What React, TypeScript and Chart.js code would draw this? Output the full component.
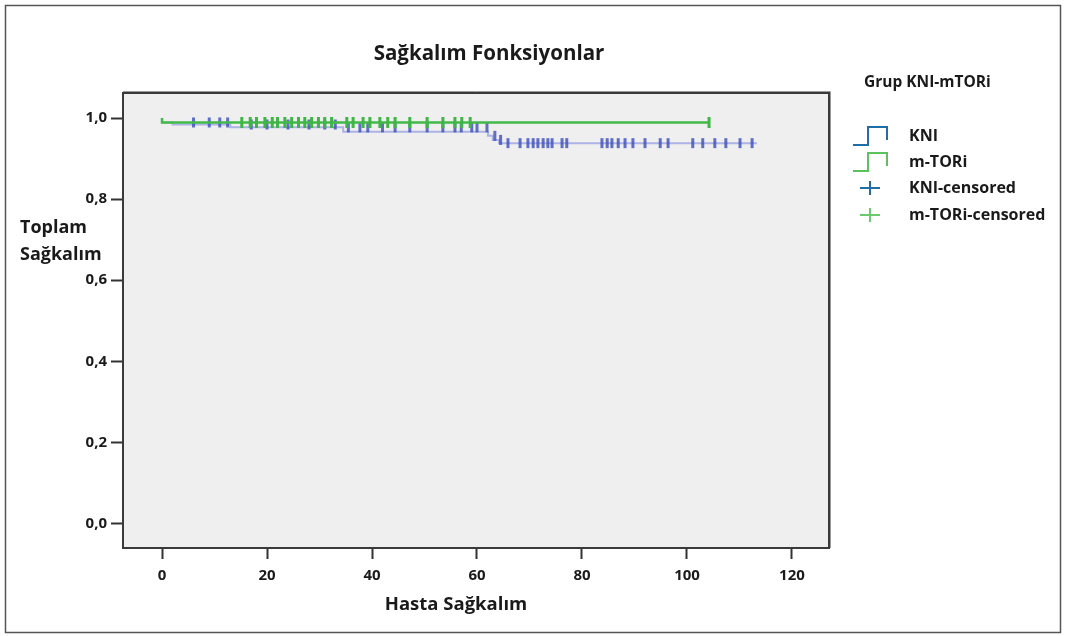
import React, { useEffect, useRef } from "react";
import { Chart, registerables } from "chart.js";

Chart.register(...registerables);

// Kaplan-Meier step curves (time, survival after that time)
const kniTimes = [0, 2, 13, 34.5, 62.1, 63, 64.2, 65, 113.3];
const kniSurv = [1, 0.989, 0.984, 0.977, 0.966, 0.956, 0.946, 0.938, 0.938];
const mtoriTimes = [0, 1.5, 104.2];
const mtoriSurv = [1, 0.989, 0.989];

// Censored observation times
const kniCensored = [
  6, 9, 11, 12.5, 17, 20, 24, 28, 31, 33, 35.5, 37.7, 39.2, 42, 44.4, 47.2, 50.5,
  53.5, 55.8, 57, 59, 60, 61.9, 63.4, 64.5, 65.9, 68.2, 69.7, 70.7, 71.6, 72.6,
  73.5, 74.3, 76.2, 77.1, 83.8, 84.8, 85.7, 86.9, 88.2, 89.7, 92, 94.9, 96.4,
  101.1, 103, 105.3, 107.4, 110.1, 112.4,
];
const mtoriCensored = [
  15.2, 16.8, 18, 19.6, 21, 22, 23.4, 24.7, 26, 27.2, 28.5, 29.8, 31, 32.3, 35.2,
  36.4, 38.3, 39.6, 41.5, 43, 44.4, 47.2, 50.5, 53.5, 55.8, 57.1, 58.7, 104.2,
];

const xTicks = [0, 20, 40, 60, 80, 100, 120];
const yTicks = [0, 0.2, 0.4, 0.6, 0.8, 1.0];

const FONT = "'Open Sans', 'DejaVu Sans', sans-serif";

function survAt(times: number[], surv: number[], t: number) {
  let s = surv[0];
  for (let i = 0; i < times.length; i++) if (times[i] <= t) s = surv[i];
  return s;
}

const KNI_LINE = "rgba(120,130,220,0.55)";
const KNI_MARK = "rgba(60,78,185,0.8)";
const MT_LINE = "#43b94a";
const MT_MARK = "#3fb546";

export default function App() {
  const ref = useRef<HTMLCanvasElement | null>(null);
  useEffect(() => {
    document.body.style.margin = "0";
    const canvas = ref.current!;
    const decor = {
      id: "decor",
      beforeDraw(chart: any) {
        const { ctx, chartArea: a } = chart;
        ctx.save();
        ctx.fillStyle = "#ffffff";
        ctx.fillRect(0, 0, chart.width, chart.height);
        ctx.fillStyle = "#efefef";
        ctx.fillRect(a.left, a.top, a.right - a.left, a.bottom - a.top);
        ctx.restore();
      },
      afterDraw(chart: any) {
        const { ctx, chartArea: a } = chart;
        ctx.save();
        // outer frame
        ctx.strokeStyle = "#555";
        ctx.lineWidth = 1.5;
        ctx.strokeRect(5.5, 5.5, 1055, 627);
        // plot frame
        ctx.strokeStyle = "#9a9a9a";
        ctx.lineWidth = 1;
        ctx.beginPath();
        ctx.moveTo(a.left, a.top - 1.5);
        ctx.lineTo(a.right + 1.5, a.top - 1.5);
        ctx.lineTo(a.right + 1.5, a.bottom);
        ctx.stroke();
        ctx.strokeStyle = "#3a3a3a";
        ctx.lineWidth = 2;
        ctx.strokeRect(a.left, a.top, a.right - a.left, a.bottom - a.top);

        ctx.fillStyle = "#1a1a1a";
        // title
        ctx.font = `bold 20.5px ${FONT}`;
        ctx.textAlign = "center";
        ctx.textBaseline = "middle";
        ctx.fillText("Sağkalım Fonksiyonlar", 489, 54);
        // x title
        ctx.font = `bold 18.5px ${FONT}`;
        ctx.fillText("Hasta Sağkalım", 456, 605);
        // y title
        ctx.textAlign = "left";
        ctx.font = `bold 18px ${FONT}`;
        ctx.fillText("Toplam", 20, 228);
        ctx.fillText("Sağkalım", 20, 255);

        // legend
        ctx.font = `bold 15.5px ${FONT}`;
        ctx.fillText("Grup KNI-mTORi", 864, 83);
        ctx.font = `bold 16px ${FONT}`;
        const rows = [
          { y: 136, label: "KNI", kind: "step", color: "#1f6fa6" },
          { y: 162, label: "m-TORi", kind: "step", color: "#5cc25e" },
          { y: 188, label: "KNI-censored", kind: "cross", color: "#1f6fa6" },
          { y: 215, label: "m-TORi-censored", kind: "cross", color: "#6cc96e" },
        ];
        rows.forEach((r) => {
          ctx.strokeStyle = r.color;
          ctx.lineWidth = 2;
          ctx.beginPath();
          if (r.kind === "step") {
            ctx.moveTo(853, r.y + 9);
            ctx.lineTo(868, r.y + 9);
            ctx.lineTo(868, r.y - 9);
            ctx.lineTo(887, r.y - 9);
            ctx.lineTo(887, r.y + 4);
          } else {
            ctx.moveTo(860, r.y);
            ctx.lineTo(880, r.y);
            ctx.moveTo(870, r.y - 7);
            ctx.lineTo(870, r.y + 7);
          }
          ctx.stroke();
          ctx.fillStyle = "#1a1a1a";
          ctx.fillText(r.label, 909, r.y);
        });
        ctx.restore();
      },
    };

    const chart = new Chart(canvas, {
      type: "scatter",
      data: {
        datasets: [
          {
            label: "m-TORi-censored",
            data: mtoriCensored.map((t) => ({ x: t, y: survAt(mtoriTimes, mtoriSurv, t) })),
            showLine: false,
            pointStyle: "line",
            rotation: 90,
            pointRadius: 5.5,
            borderColor: MT_MARK,
            backgroundColor: MT_MARK,
            pointBorderWidth: 3,
          },
          {
            label: "m-TORi",
            data: mtoriTimes.map((t, i) => ({ x: t, y: mtoriSurv[i] })),
            showLine: true,
            stepped: "after",
            pointRadius: 0,
            borderColor: MT_LINE,
            borderWidth: 2.5,
          },
          {
            label: "KNI-censored",
            data: kniCensored.map((t) => ({ x: t, y: survAt(kniTimes, kniSurv, t) })),
            showLine: false,
            pointStyle: "line",
            rotation: 90,
            pointRadius: 5,
            borderColor: KNI_MARK,
            backgroundColor: KNI_MARK,
            pointBorderWidth: 3,
          },
          {
            label: "KNI",
            data: kniTimes.map((t, i) => ({ x: t, y: kniSurv[i] })),
            showLine: true,
            stepped: "after",
            pointRadius: 0,
            borderColor: KNI_LINE,
            borderWidth: 2,
          },
        ],
      },
      options: {
        animation: false,
        responsive: false,
        layout: { padding: { left: 0, top: 93, right: 237, bottom: 0 } },
        plugins: { legend: { display: false }, tooltip: { enabled: false }, title: { display: false } },
        scales: {
          x: {
            type: "linear",
            min: -7.43,
            max: 127.05,
            afterBuildTicks: (s: any) => {
              s.ticks = xTicks.map((v) => ({ value: v }));
            },
            afterFit: (s: any) => {
              s.height = 88;
            },
            border: { display: false },
            grid: {
              drawOnChartArea: false,
              drawTicks: true,
              tickLength: 11,
              tickColor: "#333",
              tickWidth: 2,
            },
            ticks: {
              padding: 8,
              color: "#1a1a1a",
              font: { family: FONT, size: 15, weight: "bold" },
              callback: (v: any) => String(v),
            },
          },
          y: {
            type: "linear",
            min: -0.0604,
            max: 1.0617,
            afterBuildTicks: (s: any) => {
              s.ticks = yTicks.map((v) => ({ value: v }));
            },
            afterFit: (s: any) => {
              s.width = 123;
            },
            border: { display: false },
            grid: {
              drawOnChartArea: false,
              drawTicks: true,
              tickLength: 12,
              tickColor: "#333",
              tickWidth: 2,
            },
            ticks: {
              padding: 4,
              color: "#1a1a1a",
              font: { family: FONT, size: 15, weight: "bold" },
              callback: (v: any) => Number(v).toFixed(1).replace(".", ","),
            },
          },
        },
      },
      plugins: [decor],
    } as any);
    return () => chart.destroy();
  }, []);
  return (
    <div style={{ width: 1066, height: 636 }}>
      <canvas ref={ref} width={1066} height={636} style={{ width: 1066, height: 636, display: "block" }} />
    </div>
  );
}
